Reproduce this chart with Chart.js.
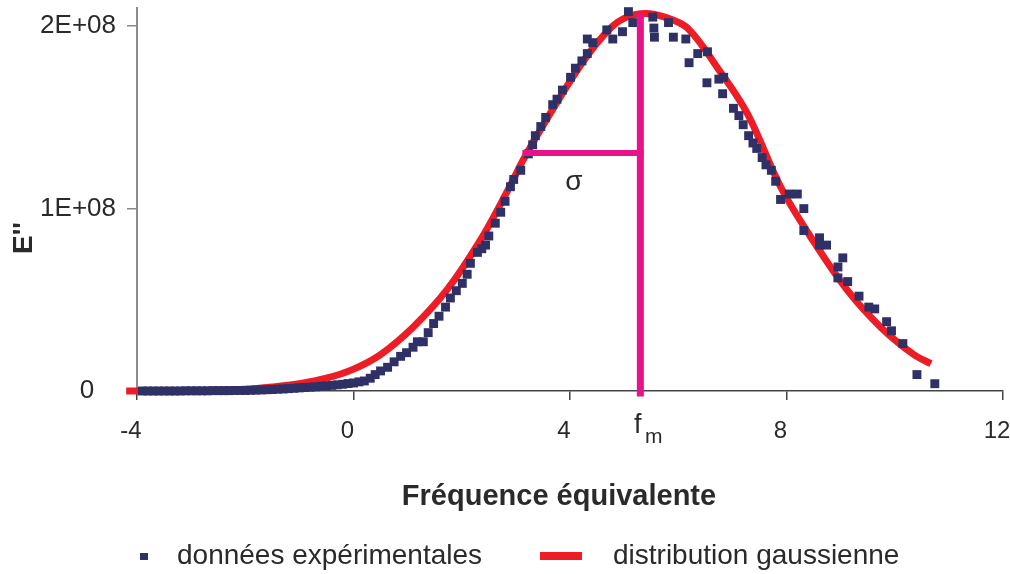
<!DOCTYPE html>
<html><head><meta charset="utf-8">
<script src="https://cdn.jsdelivr.net/npm/chart.js@4.4.1/dist/chart.umd.min.js"></script>
<style>html,body{margin:0;padding:0;background:#fff;}</style>
</head><body>
<canvas id="c" width="1010" height="574"></canvas>
<script>
// Experimental data (x = fréquence équivalente, y = E'' in units of 1E+08)
const expX = [-3.9,-3.8,-3.7,-3.6,-3.5,-3.4,-3.3,-3.2,-3.1,-3.0,-2.9,-2.8,-2.7,-2.6,-2.5,-2.4,-2.3,-2.2,-2.1,-2.0,
  -1.9,-1.8,-1.7,-1.6,-1.5,-1.4,-1.3,-1.2,-1.1,-1.0,-0.9,-0.8,-0.7,-0.6,-0.5,-0.4,-0.3,-0.2,-0.1,0.0,
  0.1,0.2,0.31,0.4,0.5,0.63,0.75,0.87,0.98,1.1,1.18,1.29,1.38,1.48,1.58,1.70,1.79,1.9,2.01,2.1,
  2.16,2.29,2.37,2.44,2.50,2.62,2.72,2.8,2.9,2.96,3.09,3.23,3.31,3.36,3.46,3.55,3.68,3.76,3.86,4.01,
  4.10,4.22,4.32,4.32,4.42,4.68,4.79,4.97,5.08,5.16,5.53,5.55,5.56,5.82,5.91,6.14,6.2,6.36,6.54,6.53,
  6.75,6.84,6.82,7.02,7.12,7.2,7.3,7.38,7.45,7.55,7.62,7.72,7.8,7.89,8.05,8.2,8.32,8.32,8.61,8.61,
  8.74,8.95,8.95,9.04,9.13,9.34,9.52,9.63,9.85,9.94,10.15,10.41,10.74];
const expY = [0,0,0,0,0,0,0,0,0.001,0.001,0.001,0.001,0.001,0.002,0.002,0.002,0.002,0.003,0.003,0.003,
  0.004,0.005,0.006,0.007,0.008,0.010,0.011,0.013,0.015,0.017,0.019,0.021,0.023,0.026,0.028,0.031,0.034,0.037,0.041,0.044,
  0.05,0.055,0.07,0.09,0.11,0.13,0.16,0.19,0.21,0.24,0.27,0.27,0.32,0.37,0.41,0.46,0.51,0.55,0.59,0.64,
  0.70,0.76,0.78,0.80,0.85,0.92,0.98,1.04,1.12,1.16,1.21,1.30,1.35,1.40,1.45,1.50,1.57,1.60,1.65,1.72,
  1.77,1.81,1.85,1.93,1.91,1.98,1.93,1.97,2.08,2.02,2.05,1.99,1.94,2.02,1.94,1.93,1.80,1.85,1.86,1.69,
  1.71,1.72,1.63,1.55,1.51,1.46,1.40,1.36,1.33,1.28,1.24,1.21,1.15,1.05,1.08,1.08,1.00,0.88,0.84,0.80,
  0.80,0.68,0.62,0.73,0.60,0.52,0.46,0.45,0.38,0.33,0.26,0.09,0.04];

// Gaussian fit curve
const fitX = [-4.2,-3,-2,-1.5,-1,-0.5,0,0.5,1.1,1.74,2.35,2.85,3.14,3.59,4.25,4.75,5.05,5.4,5.75,6.17,6.73,7.28,7.89,8.5,9.13,9.74,10.35,10.67];
const fitY = [0,0.002,0.01,0.022,0.04,0.07,0.12,0.2,0.35,0.56,0.83,1.10,1.27,1.5,1.81,1.99,2.05,2.07,2.05,1.99,1.77,1.52,1.12,0.82,0.55,0.35,0.20,0.15];

// Annotation values
const fmX = [5.3, 5.3];
const fmY = [-0.03, 2.07];
const sigmaX = [3.12, 5.36];
const sigmaY = [1.305, 1.305];

// Ticks
const xTickValues = [-4, 0, 4, 8, 12];
const yTickValues = [0, 1, 2];
const yTickLabels = ['0   ', '1E+08', '2E+08'];

const NAVY = '#2f3166', RED = '#ee1c25', MAGENTA = '#e8138b', TXT = '#2a2a2a';
const FONT = "'Liberation Sans', Arial, sans-serif";

const pts = (xs, ys) => xs.map((x, i) => ({x, y: ys[i]}));

const overlay = {
  id: 'overlay',
  afterDraw(chart) {
    const ctx = chart.ctx;
    ctx.save();
    ctx.fillStyle = TXT;
    // y title
    ctx.save();
    ctx.translate(24, 238);
    ctx.rotate(-Math.PI / 2);
    ctx.font = 'bold 28px ' + FONT;
    ctx.textAlign = 'center'; ctx.textBaseline = 'middle';
    ctx.fillText("E''", 0, 0);
    ctx.restore();
    // x title
    ctx.font = 'bold 29px ' + FONT;
    ctx.textAlign = 'center'; ctx.textBaseline = 'middle';
    ctx.fillText('Fréquence équivalente', 559, 497);
    // sigma
    ctx.font = '28px ' + FONT;
    ctx.fillText('σ', 574, 182);
    // f_m
    ctx.textAlign = 'left'; ctx.textBaseline = 'alphabetic';
    ctx.font = '27px ' + FONT;
    ctx.fillText('f', 634, 433);
    ctx.font = '21px ' + FONT;
    ctx.fillText('m', 645, 443);
    // legend
    ctx.fillStyle = NAVY;
    ctx.fillRect(140, 553, 8, 7);
    ctx.fillStyle = RED;
    ctx.fillRect(540, 552, 42, 8);
    ctx.fillStyle = TXT;
    ctx.font = '28px ' + FONT;
    ctx.fillText('données expérimentales', 177, 564);
    ctx.fillText('distribution gaussienne', 613, 564);
    ctx.restore();
  }
};

new Chart(document.getElementById('c'), {
  type: 'scatter',
  data: {
    datasets: [
      { label: 'fm', data: pts(fmX, fmY), showLine: true, borderColor: MAGENTA, borderWidth: 7,
        pointRadius: 0, order: 0, clip: false },
      { label: 'sigma', data: pts(sigmaX, sigmaY), showLine: true, borderColor: MAGENTA, borderWidth: 6,
        pointRadius: 0, order: 0, clip: false },
      { label: 'données expérimentales', data: pts(expX, expY), pointStyle: 'rect', pointRadius: 6.3,
        backgroundColor: NAVY, borderWidth: 0, order: 1, clip: false },
      { label: 'distribution gaussienne', data: pts(fitX, fitY), showLine: true, borderColor: RED,
        borderWidth: 7, pointRadius: 0, tension: 0.35, order: 2, clip: false }
    ]
  },
  options: {
    responsive: false, animation: false, devicePixelRatio: 1,
    layout: { padding: { left: 0, right: 7, top: 8, bottom: 0 } },
    plugins: { legend: { display: false }, tooltip: { enabled: false } },
    scales: {
      x: {
        type: 'linear', min: -4, max: 12,
        afterBuildTicks: s => { s.ticks = xTickValues.map(v => ({ value: v })); },
        ticks: { color: TXT, font: { size: 24, family: FONT }, padding: 17, labelOffset: -6,
                 maxRotation: 0, callback: v => String(v) },
        grid: { drawOnChartArea: false, drawTicks: true, tickLength: 9, color: '#444', lineWidth: 1.5 },
        border: { color: '#444', width: 1.5 },
        afterFit: s => { s.height = 183; s.paddingLeft = 0; s.paddingRight = 0; }
      },
      y: {
        type: 'linear', min: 0, max: 2.1,
        afterBuildTicks: s => { s.ticks = yTickValues.map(v => ({ value: v })); },
        ticks: { color: TXT, font: { size: 26, family: FONT }, padding: 11,
                 callback: v => yTickLabels[yTickValues.indexOf(v)] },
        grid: { drawOnChartArea: false, drawTicks: true, tickLength: 10, color: '#888', lineWidth: 1.5 },
        border: { color: '#8c8c8c', width: 2 },
        afterFit: s => { s.width = 137; s.paddingTop = 0; s.paddingBottom = 0; }
      }
    }
  },
  plugins: [overlay]
});
</script>
</body></html>
